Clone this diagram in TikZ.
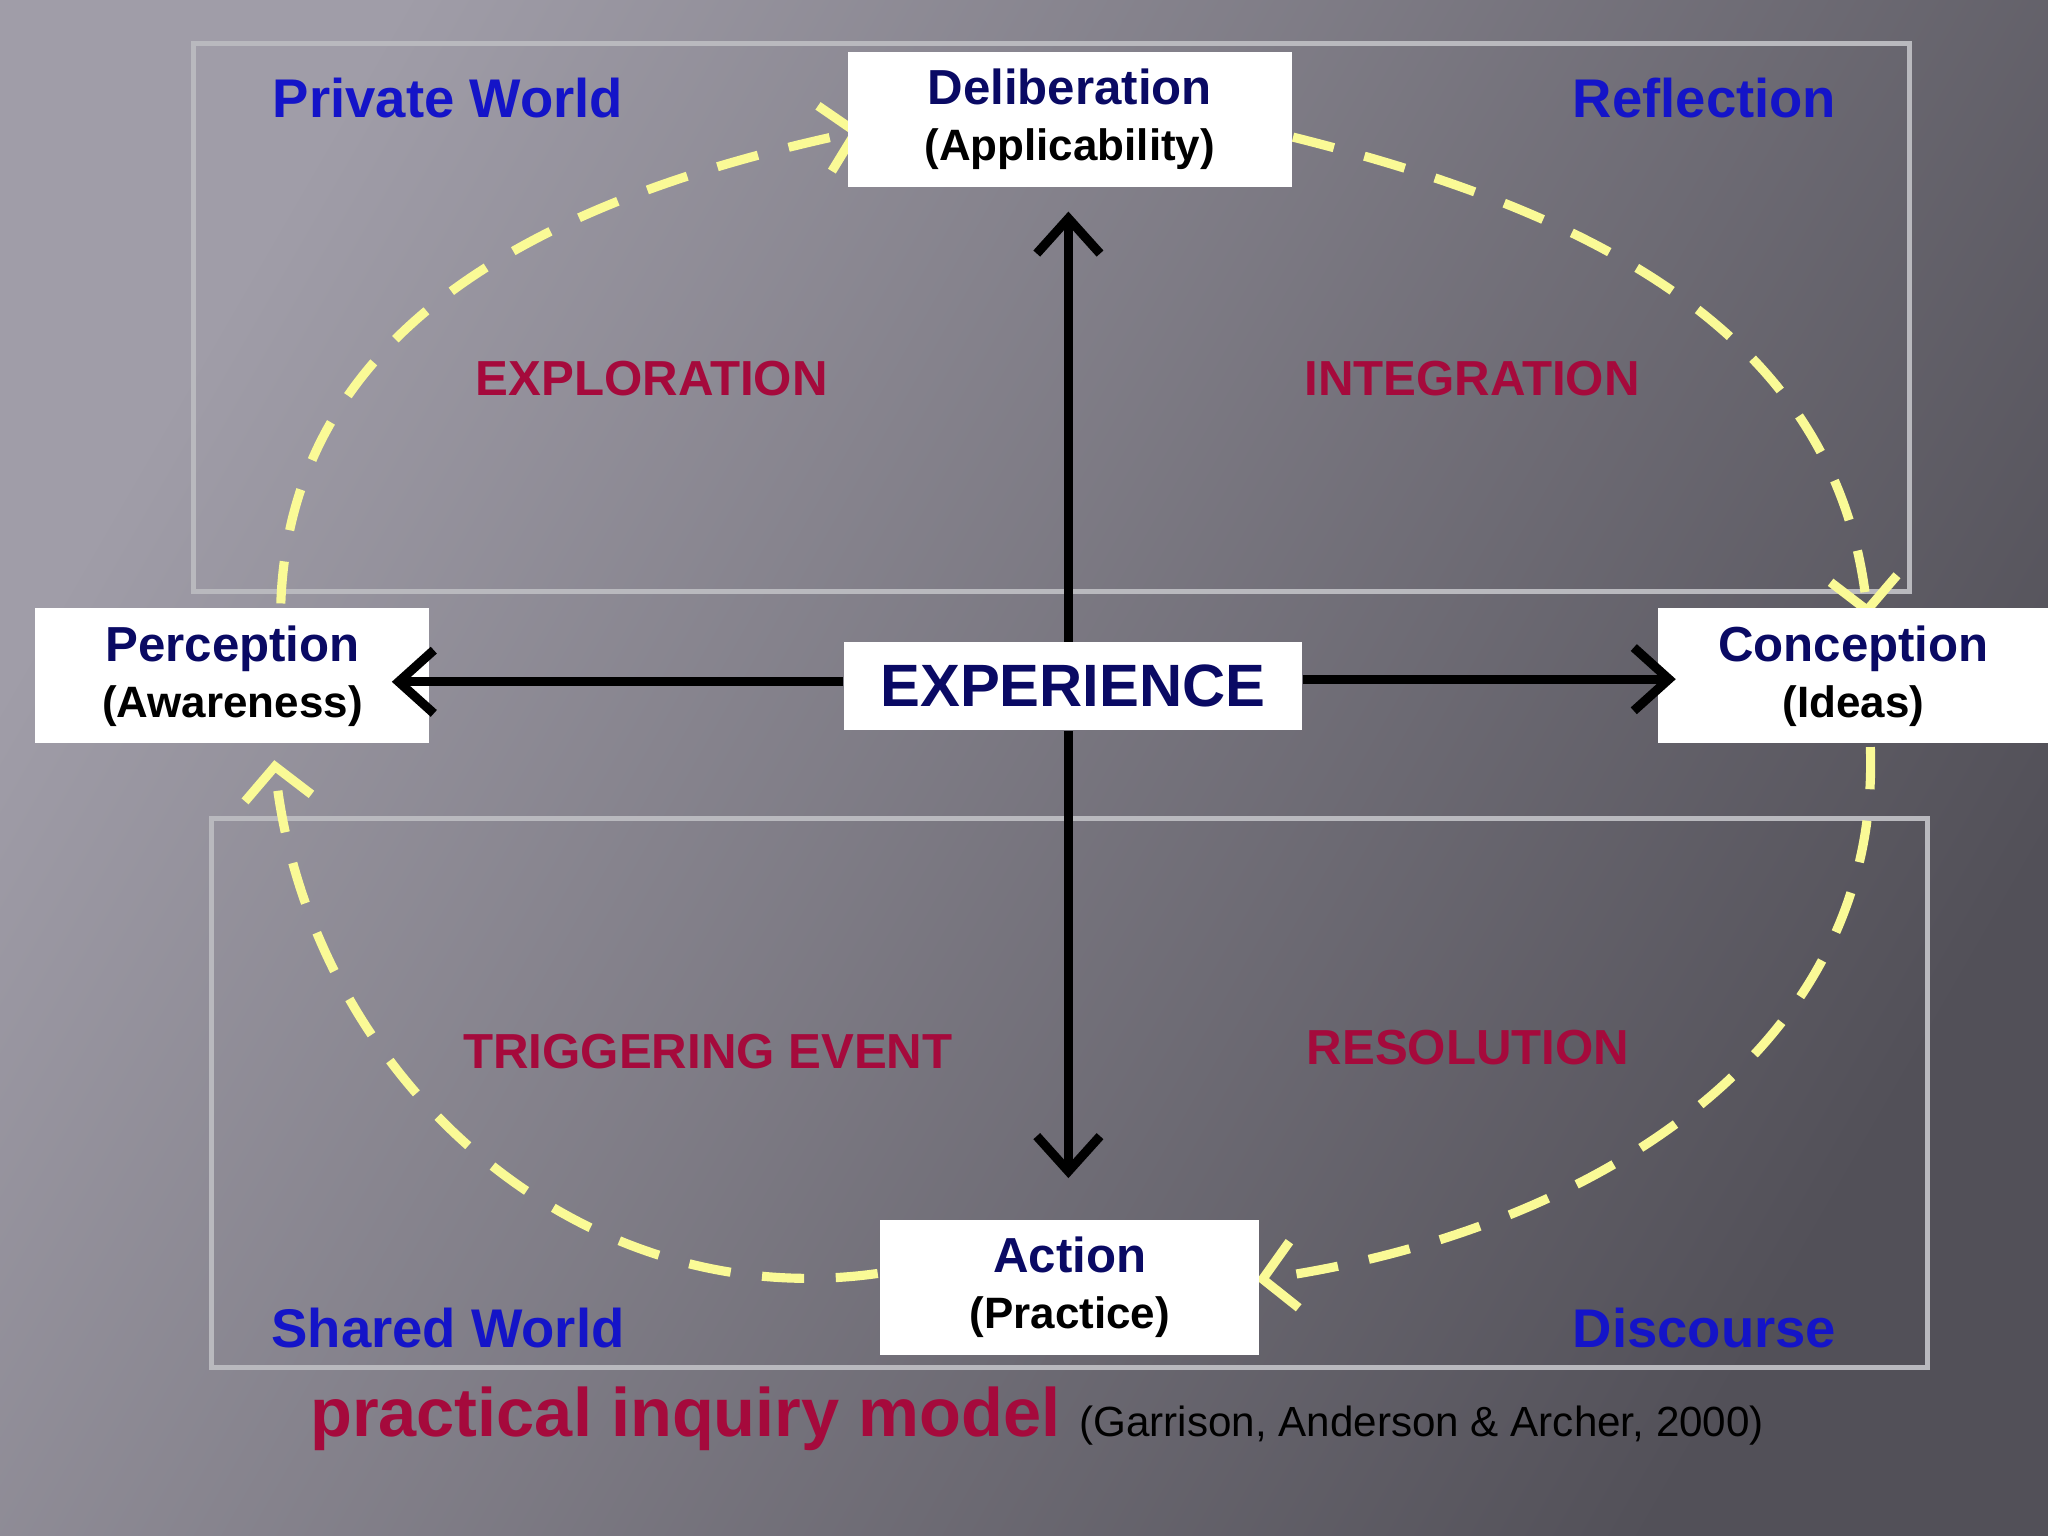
\documentclass[tikz,border=0pt]{standalone}
\usepackage{fontspec}
\setmainfont{Liberation Sans}
\usetikzlibrary{positioning,arrows.meta,calc}
\definecolor{titleblue}{RGB}{20,20,200}
\definecolor{navy}{RGB}{10,10,100}
\definecolor{phase}{RGB}{165,10,60}
\definecolor{cycleyellow}{RGB}{250,250,150}
\definecolor{frame}{RGB}{185,185,190}
\begin{document}
\begin{tikzpicture}[x=0.01306cm,y=-0.01306cm,font=\bfseries]

    \tikzstyle{box}=[fill=white,inner sep=0pt,align=center,font=\bfseries\fontsize{12.5}{16}\selectfont]
    \tikzstyle{world}=[text=titleblue,font=\bfseries\fontsize{15.5}{18}\selectfont]
    \tikzstyle{phase}=[text=phase,font=\bfseries\fontsize{14}{17}\selectfont]
    \tikzstyle{axis}=[draw=black,line width=2.6pt,-{Straight Barb[length=10pt,width=18pt,line width=2.6pt]}]
    \tikzstyle{cycle}=[draw=cycleyellow,line width=2.6pt,dash pattern=on 12pt off 9pt,
        -{Straight Barb[length=9pt,width=19pt,line width=2.6pt]}]

    % background
    \shade[left color={rgb,255:red,160;green,157;blue,168},right color={rgb,255:red,82;green,80;blue,88},shading angle=60]
        (0,0) rectangle (1568,1176);
    \useasboundingbox (0,0) rectangle (1568,1176);

    % frames
    \draw[frame,line width=1.4pt] (148,33) rectangle (1462,453);
    \draw[frame,line width=1.4pt] (162,627) rectangle (1476,1047);

    % dashed cycle
    \coordinate (cA) at (215,462);
    \coordinate (cB) at (990,105);
    \coordinate (cC) at (1432,572);
    \coordinate (cD) at (672,975);
    \coordinate (tA) at (660,100);
    \coordinate (tB) at (1430,472);
    \coordinate (tC) at (962,980);
    \coordinate (tD) at (210,582);
    \draw[cycle] (cA) to[out=88,in=192] (tA);
    \draw[cycle] (cB) to[out=-14,in=96] (tB);
    \draw[cycle] (cC) to[out=-88,in=8] (tC);
    \draw[cycle] (cD) to[out=188,in=-84] (tD);

    % nodes
    \node[box,minimum width=4.44cm,minimum height=1.35cm] (del) at (819,91.5)
        {\textcolor{navy}{\fontsize{14}{16}\selectfont Deliberation}\\(Applicability)};
    \node[box,minimum width=3.94cm,minimum height=1.35cm] (per) at (178,517.5)
        {\textcolor{navy}{\fontsize{14}{16}\selectfont Perception}\\(Awareness)};
    \node[box,minimum width=3.9cm,minimum height=1.35cm] (con) at (1419,517.5)
        {\textcolor{navy}{\fontsize{14}{16}\selectfont Conception}\\(Ideas)};
    \node[box,minimum width=3.79cm,minimum height=1.35cm] (act) at (819,985.5)
        {\textcolor{navy}{\fontsize{14}{16}\selectfont Action}\\(Practice)};
    \node[box,minimum width=4.58cm,minimum height=0.88cm,text=navy,
        font=\bfseries\fontsize{17}{20}\selectfont] (exp) at (821.5,525.5) {EXPERIENCE};

    % axes
    \coordinate (up) at (818,162);
    \coordinate (down) at (818,902);
    \coordinate (left) at (300,522);
    \coordinate (right) at (1283,520);
    \draw[axis] (exp.north -| up) -- (up);
    \draw[axis] (exp.south -| down) -- (down);
    \draw[axis] (exp.west |- left) -- (left);
    \draw[axis] (exp.east |- right) -- (right);

    % labels
    \node[world] (pw) at (343,75) {Private World};
    \node[world] (rf) at (1305,75) {Reflection};
    \node[world] (sw) at (343,1017) {Shared World};
    \node[world] (dc) at (1305,1017) {Discourse};
    \node[phase] (ex) at (499,290) {EXPLORATION};
    \node[phase] (in) at (1127,290) {INTEGRATION};
    \node[phase] (tr) at (542,805) {TRIGGERING EVENT};
    \node[phase] (rs) at (1124,802) {RESOLUTION};

    % caption
    \node[anchor=base west,inner sep=0pt,text=phase,font=\bfseries\fontsize{19.5}{22}\selectfont] (cap) at (237,1100)
        {practical inquiry model};
    \node[inner sep=0pt,font=\mdseries\fontsize{12}{15}\selectfont,text=black,right=5pt of cap.base east,anchor=base west] (cite)
        {(Garrison, Anderson \& Archer, 2000)};

\end{tikzpicture}
\end{document}
